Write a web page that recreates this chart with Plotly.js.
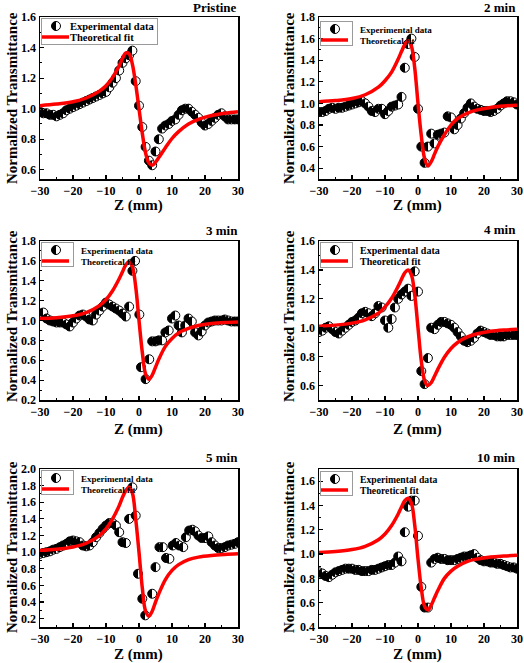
<!DOCTYPE html>
<html><head><meta charset="utf-8">
<script src="https://cdn.plot.ly/plotly-3.0.1.min.js"></script>
<style>body{margin:0;background:#fff}#chart{width:524px;height:663px}</style>
</head><body><div id="chart"></div>
<script>
const FONT = 'Liberation Serif, Times New Roman, serif';

// ---- data ----
const panelTitles = ['Pristine', '2 min', '3 min', '4 min', '5 min', '10 min'];
const legendNames = ['Experimental data', 'Theoretical fit'];
const xTitle = 'Z (mm)';
const yTitle = 'Normalized Transmittance';

const zInt = [-30,-29,-28,-27,-26,-25,-24,-23,-22,-21,-20,-19,-18,-17,-16,-15,-14,-13,-12,-11,-10,-9,-8,-7,-6,-5,-4,-3,-2,-1,0,1,2,3,4,5,6,7,8,9,10,11,12,13,14,15,16,17,18,19,20,21,22,23,24,25,26,27,28,29,30];

const expZ1 = zInt;
const expT1 = [0.98,0.97,0.97,0.96,0.96,0.95,0.96,0.97,0.99,1.00,1.01,1.02,1.03,1.04,1.05,1.06,1.07,1.08,1.09,1.10,1.11,1.14,1.17,1.20,1.25,1.30,1.33,1.35,1.38,1.18,1.02,0.88,0.75,0.66,0.63,0.72,0.80,0.87,0.89,0.90,0.92,0.93,0.96,0.99,1.00,1.00,0.98,0.96,0.94,0.91,0.89,0.90,0.92,0.94,0.96,0.97,0.95,0.93,0.93,0.93,0.93];

const expZ2 = zInt;
const expT2 = [0.92,0.92,0.93,0.95,0.96,0.95,0.96,0.96,0.97,0.98,0.99,1.00,1.01,1.02,1.00,0.97,0.93,0.92,0.95,0.95,0.90,0.93,0.97,0.98,0.99,1.06,1.33,1.55,1.60,1.43,0.95,0.60,0.45,0.60,0.72,0.63,0.71,0.72,0.73,0.88,0.87,0.76,0.80,0.86,0.91,0.96,1.00,0.97,0.95,0.94,0.93,0.93,0.92,0.93,0.95,0.98,1.00,1.02,1.02,1.01,0.99];

const expZ3 = [-30,-29,-28,-27,-26,-25,-24,-23,-22,-21,-20,-19,-18,-17,-16,-15,-14,-13,-12,-11,-10,-9,-8,-7,-6,-5,-4,-3,-2,-1.2,0.1,0.6,2,3.1,4,5,6,7,8,9,10,11,12,13,14,15,16,17,18,19,20,21,22,23,24,25,26,27,28,29,30];
const expT3 = [1.07,1.08,1.02,1.00,0.99,0.98,0.98,0.98,0.96,0.94,0.98,1.02,1.05,1.06,1.04,1.01,1.00,1.06,1.10,1.14,1.18,1.16,1.14,1.12,1.10,1.07,1.04,1.14,1.50,1.60,1.06,0.53,0.41,0.61,0.79,0.79,0.80,0.80,0.88,0.90,1.02,1.05,0.95,0.88,0.95,1.02,0.99,0.88,0.85,0.89,0.95,0.98,0.99,1.00,1.00,1.00,1.01,1.00,0.99,0.99,0.99];

const expZ4 = zInt;
const expT4 = [0.97,0.98,1.00,1.01,0.99,0.97,0.96,0.98,1.00,1.02,1.04,1.05,1.07,1.10,1.11,1.10,1.08,1.10,1.15,1.14,1.05,1.00,1.06,1.14,1.20,1.23,1.25,1.27,1.22,1.39,1.25,0.70,0.61,0.79,1.00,0.99,1.02,1.04,1.04,1.03,1.02,1.00,0.97,0.94,0.91,0.90,0.91,0.93,0.96,0.98,0.97,0.96,0.95,0.95,0.94,0.94,0.94,0.95,0.95,0.95,0.95];

const expZ5 = [-30,-29,-28,-27,-26,-25,-24,-23,-22,-21,-20,-19,-18,-17,-16,-15,-14,-13,-12,-11,-10,-9,-8,-7,-6,-5,-4,-3,-2,-1,-0.3,1,1.9,4,5,6.2,7.2,8.2,9.2,10.2,11.2,12.2,13.4,14.2,15.2,16.2,17,18,19,20,21,22,23,24,25,26,27,28,29,30];
const expT5 = [0.98,0.99,1.00,1.01,1.03,1.04,1.06,1.08,1.10,1.13,1.14,1.13,1.12,1.08,1.07,1.08,1.12,1.18,1.23,1.28,1.32,1.35,1.35,1.32,1.24,1.12,1.11,1.40,1.78,1.44,0.74,0.44,0.24,0.50,0.82,1.06,1.06,0.93,0.92,1.08,1.11,1.08,1.06,1.18,1.26,1.27,1.25,1.20,1.17,1.17,1.19,1.12,1.08,1.05,1.05,1.06,1.08,1.09,1.10,1.12];

const expZ6 = zInt;
const expT6 = [0.85,0.84,0.82,0.81,0.83,0.85,0.86,0.87,0.88,0.88,0.88,0.87,0.87,0.86,0.86,0.86,0.87,0.87,0.88,0.89,0.90,0.91,0.91,0.93,0.98,0.94,1.18,1.39,1.44,1.44,1.15,0.73,0.56,0.56,0.93,0.96,0.97,0.96,0.96,0.95,0.95,0.95,0.96,0.97,0.98,0.98,0.99,1.00,0.97,0.95,0.94,0.94,0.93,0.93,0.92,0.92,0.91,0.90,0.89,0.89,0.88];

const fitZ = [-30,-25,-20,-16,-12,-10,-8,-6,-5,-4,-3,-2,-1,0,1,2,3,4,5,6,8,10,12,15,18,22,26,30];
const fitT1 = [1.02,1.03,1.045,1.07,1.115,1.15,1.205,1.28,1.33,1.365,1.36,1.29,1.16,1.00,0.84,0.71,0.645,0.63,0.65,0.68,0.745,0.805,0.85,0.90,0.93,0.955,0.97,0.98];
const fitT2 = [1.016,1.026,1.045,1.08,1.15,1.21,1.29,1.41,1.48,1.545,1.58,1.53,1.33,1.00,0.70,0.49,0.42,0.46,0.53,0.60,0.71,0.80,0.86,0.91,0.94,0.963,0.976,0.984];
const fitT3 = [1.02,1.027,1.047,1.08,1.15,1.21,1.30,1.42,1.49,1.56,1.59,1.54,1.34,1.00,0.68,0.46,0.41,0.45,0.53,0.61,0.74,0.82,0.875,0.92,0.95,0.97,0.98,0.985];
const fitT4 = [1.011,1.018,1.032,1.055,1.10,1.144,1.204,1.288,1.336,1.38,1.40,1.365,1.23,1.00,0.77,0.635,0.60,0.62,0.664,0.712,0.796,0.856,0.898,0.936,0.958,0.975,0.984,0.989];
const fitT5 = [1.021,1.035,1.063,1.107,1.20,1.28,1.40,1.56,1.66,1.74,1.78,1.71,1.40,1.00,0.57,0.29,0.23,0.29,0.40,0.50,0.67,0.78,0.85,0.91,0.94,0.96,0.972,0.98];
const fitT6 = [1.013,1.021,1.037,1.064,1.118,1.165,1.235,1.33,1.387,1.44,1.46,1.42,1.24,0.96,0.72,0.57,0.54,0.58,0.64,0.70,0.80,0.86,0.90,0.94,0.96,0.976,0.984,0.99];

const expZ = [expZ1, expZ2, expZ3, expZ4, expZ5, expZ6];
const expT = [expT1, expT2, expT3, expT4, expT5, expT6];
const fitT = [fitT1, fitT2, fitT3, fitT4, fitT5, fitT6];

// ---- layout geometry ----
const W = 524, H = 663;
const colDom = [[40/W, 238/W], [319/W, 517/W]];
const rowPx = [[17, 179], [241, 400], [469, 627]];
const yRanges = [[0.54, 1.6], [0.3, 1.8], [0.2, 1.8], [0.5, 1.6], [0.1, 2.0], [0.4, 1.7]];
const titleY = [8, 8, 230, 229, 457, 457];
const titleRight = [238, 517, 239, 517, 239, 517];
const xTitleY = [205, 205, 429, 429, 654, 654];
const yTitleX = [12, 289];
const yTitleY = [98, 316, 547];
const legendPos = [[41, 18], [320, 21], [41, 242], [320, 242], [41, 470], [320, 471]];
const legendFont = [10.5, 9, 9, 10, 9, 9.7];
const legendH = [26, 24, 24, 25, 24, 24];

const tickFont = {family: FONT, size: 12, color: '#000', weight: 'bold'};
const data = [];
const layout = {
  width: W, height: H,
  margin: {l: 0, r: 0, t: 0, b: 0},
  paper_bgcolor: '#fff', plot_bgcolor: '#fff',
  showlegend: true,
  annotations: []
};
const legendIds = [];

for (let i = 0; i < 6; i++) {
  const n = i + 1;
  const xa = 'x' + (i === 0 ? '' : n), ya = 'y' + (i === 0 ? '' : n);
  const xKey = 'xaxis' + (i === 0 ? '' : n), yKey = 'yaxis' + (i === 0 ? '' : n);
  const lgKey = 'legend' + (i === 0 ? '' : n);
  legendIds.push(lgKey);
  const col = i % 2, row = Math.floor(i / 2);
  const yDom = [1 - rowPx[row][1] / H, 1 - rowPx[row][0] / H];
  data.push({
    x: expZ[i], y: expT[i], xaxis: xa, yaxis: ya, type: 'scatter', mode: 'markers',
    name: legendNames[0], legend: lgKey,
    marker: {size: 9, color: '#ffffff', line: {color: '#000', width: 1},
             gradient: {type: 'horizontal', color: '#000000'}}
  });
  data.push({
    x: fitZ, y: fitT[i], xaxis: xa, yaxis: ya, type: 'scatter', mode: 'lines',
    name: legendNames[1], legend: lgKey,
    line: {color: '#ff0000', width: 3.5, shape: 'spline', smoothing: 1}
  });
  const common = {
    showgrid: false, zeroline: false, showline: true, linecolor: '#000', linewidth: 1.5,
    mirror: true, ticks: 'inside', ticklen: 4, tickwidth: 1.2, tickcolor: '#000',
    tickfont: tickFont
  };
  layout[xKey] = Object.assign({}, common, {
    domain: colDom[col], anchor: ya, range: [-30, 30], tick0: 0, dtick: 10,
    minor: {ticks: 'inside', ticklen: 2, tickcolor: '#000', tickwidth: 1, dtick: 5}
  });
  layout[yKey] = Object.assign({}, common, {
    domain: yDom, anchor: xa, range: yRanges[i], tick0: 0, dtick: 0.2, tickformat: '.1f',
    minor: {ticks: 'inside', ticklen: 2, tickcolor: '#000', tickwidth: 1, dtick: 0.1}
  });
  layout[lgKey] = {
    x: legendPos[i][0] / W, y: 1 - legendPos[i][1] / H, xanchor: 'left', yanchor: 'top',
    bgcolor: 'rgba(255,255,255,0)', bordercolor: '#9a9a9a', borderwidth: 1, tracegroupgap: 0,
    font: {family: FONT, size: legendFont[i], color: '#000', weight: 'bold'}
  };
  layout.annotations.push({
    text: panelTitles[i], xref: 'paper', yref: 'paper', showarrow: false, borderpad: 0,
    x: titleRight[i] / W, y: 1 - titleY[i] / H, xanchor: 'right', yanchor: 'middle',
    font: {family: FONT, size: 13, color: '#000', weight: 'bold'}
  });
  layout.annotations.push({
    text: xTitle, xref: 'paper', yref: 'paper', showarrow: false, borderpad: 0,
    x: (colDom[col][0] + colDom[col][1]) / 2, y: 1 - xTitleY[i] / H, xanchor: 'center', yanchor: 'middle',
    font: {family: FONT, size: 15, color: '#000', weight: 'bold'}
  });
  layout.annotations.push({
    text: yTitle, xref: 'paper', yref: 'paper', showarrow: false, textangle: -90, borderpad: 0,
    x: yTitleX[col] / W, y: 1 - yTitleY[row] / H, xanchor: 'center', yanchor: 'middle',
    font: {family: FONT, size: 15, color: '#000', weight: 'bold'}
  });
}

function halfFillMarkers(gd) {
  gd.querySelectorAll('linearGradient').forEach(function(g) {
    g.setAttribute('x1', '0'); g.setAttribute('x2', '1');
    g.setAttribute('y1', '0'); g.setAttribute('y2', '0');
    while (g.firstChild) g.removeChild(g.firstChild);
    [[0, '#000'], [50, '#000'], [50, '#fff'], [100, '#fff']].forEach(function(s) {
      const st = document.createElementNS('http://www.w3.org/2000/svg', 'stop');
      st.setAttribute('offset', s[0] + '%');
      st.setAttribute('stop-color', s[1]);
      g.appendChild(st);
    });
  });
}

function compactLegends(gd) {
  legendIds.forEach(function(id, i) {
    const lg = gd.querySelector('g.' + id);
    if (!lg) return;
    let maxW = 0;
    lg.querySelectorAll('g.traces').forEach(function(tr, k) {
      tr.setAttribute('transform', 'translate(0,' + (8 + 11 * k) + ')');
      const txt = tr.querySelector('text.legendtext');
      if (txt) {
        txt.setAttribute('x', '29');
        txt.querySelectorAll('tspan[x]').forEach(function(t) { t.setAttribute('x', '29'); });
        maxW = Math.max(maxW, txt.getComputedTextLength());
      }
      tr.querySelectorAll('path.js-line').forEach(function(p) { p.setAttribute('d', 'M1,0h27'); });
      tr.querySelectorAll('path.scatterpts').forEach(function(p) { p.setAttribute('transform', 'translate(15,0)'); });
    });
    const bg = lg.querySelector('rect.bg');
    if (bg) {
      bg.setAttribute('height', legendH[i]);
      bg.setAttribute('width', Math.ceil(29 + maxW + 3));
    }
  });
}

Plotly.newPlot('chart', data, layout, {staticPlot: true, displayModeBar: false}).then(function(gd) {
  halfFillMarkers(gd);
  compactLegends(gd);
});
</script>
</body></html>
